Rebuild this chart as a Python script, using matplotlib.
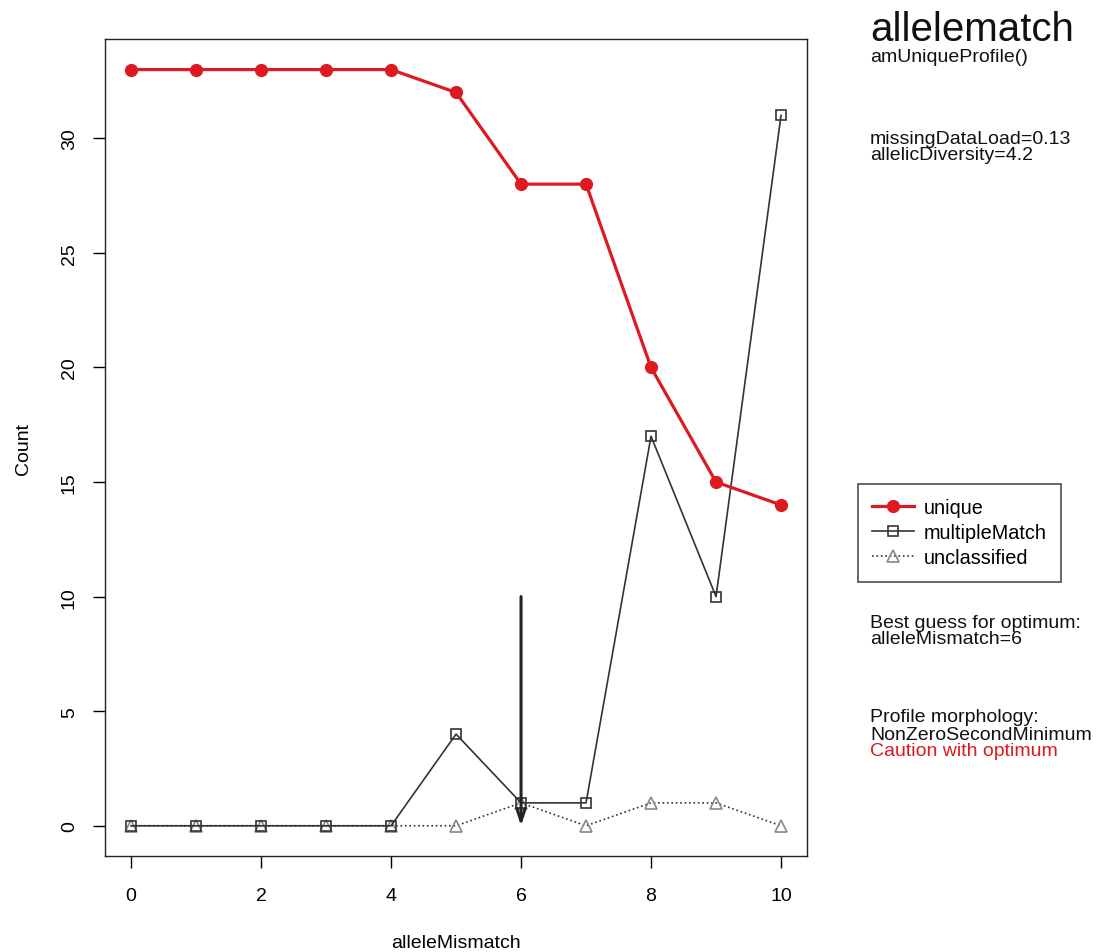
import matplotlib.pyplot as plt

plt.rcParams['font.family'] = ['Liberation Sans', 'DejaVu Sans']

allele_mismatch = [0, 1, 2, 3, 4, 5, 6, 7, 8, 9, 10]
unique = [33, 33, 33, 33, 33, 32, 28, 28, 20, 15, 14]
multiple_match = [0, 0, 0, 0, 0, 4, 1, 1, 17, 10, 31]
unclassified = [0, 0, 0, 0, 0, 0, 1, 0, 1, 1, 0]

best_guess = 6
x_ticks = [0, 2, 4, 6, 8, 10]
y_ticks = [0, 5, 10, 15, 20, 25, 30]

red = '#dd1a22'

fig = plt.figure(figsize=(11.01, 9.53), dpi=100)
ax = fig.add_axes([0.0954, 0.1007, 0.6376, 0.857])

ax.plot(allele_mismatch, unclassified, linestyle=':', color='#333333', lw=1.2,
        marker='^', markersize=8, markerfacecolor='none', markeredgecolor='#888888',
        markeredgewidth=1.2, label='unclassified', zorder=2)
ax.plot(allele_mismatch, multiple_match, linestyle='-', color='#333333', lw=1.2,
        marker='s', markersize=6.5, markerfacecolor='none', markeredgecolor='#333333',
        markeredgewidth=1.2, label='multipleMatch', zorder=3)
ax.plot(allele_mismatch, unique, linestyle='-', color=red, lw=2.3,
        marker='o', markersize=8.5, markerfacecolor=red, markeredgecolor=red,
        label='unique', zorder=4)

# arrow pointing at the optimum
ax.annotate('', xy=(best_guess, 0), xytext=(best_guess, 10),
            arrowprops=dict(arrowstyle='->,head_length=0.9,head_width=0.3',
                            color='#222222', lw=2.2, shrinkA=0, shrinkB=0),
            zorder=5)

ax.set_xlim(-0.4, 10.4)
ax.set_ylim(-1.32, 34.32)
ax.set_xticks(x_ticks)
ax.set_yticks(y_ticks)
ax.tick_params(direction='out', length=8.6, width=1, labelsize=14)
ax.tick_params(axis='x', pad=14)
ax.tick_params(axis='y', pad=11)
for lbl in ax.get_yticklabels():
    lbl.set_rotation(90)
    lbl.set_va('center')
for s in ax.spines.values():
    s.set_linewidth(1)
    s.set_color('#222222')

ax.set_xlabel('alleleMismatch', fontsize=14, labelpad=21)
ax.set_ylabel('Count', fontsize=14, labelpad=21)

handles, labels = ax.get_legend_handles_labels()
order = [2, 1, 0]
leg = fig.legend([handles[i] for i in order], [labels[i] for i in order],
                 loc='upper left', bbox_to_anchor=(858 / 1101, 1 - 485 / 953),
                 frameon=True, fancybox=False, edgecolor='#222222', fontsize=14.3,
                 handlelength=2.1, borderpad=0.72, labelspacing=0.3,
                 handletextpad=0.5, borderaxespad=0)
leg.get_frame().set_linewidth(1.2)

tx = 870 / 1101


def put(y_px, text, size=14, color='#111111'):
    fig.text(tx, 1 - y_px / 953, text, fontsize=size, color=color,
             ha='left', va='center')


put(30, 'allelematch', size=29)
put(57, 'amUniqueProfile()')
put(139, 'missingDataLoad=0.13')
put(156, 'allelicDiversity=4.2')
put(623, 'Best guess for optimum:')
put(640, 'alleleMismatch=6')
put(718, 'Profile morphology:')
put(735, 'NonZeroSecondMinimum')
put(752, 'Caution with optimum', color=red)

fig.savefig('out.png', dpi=100)
